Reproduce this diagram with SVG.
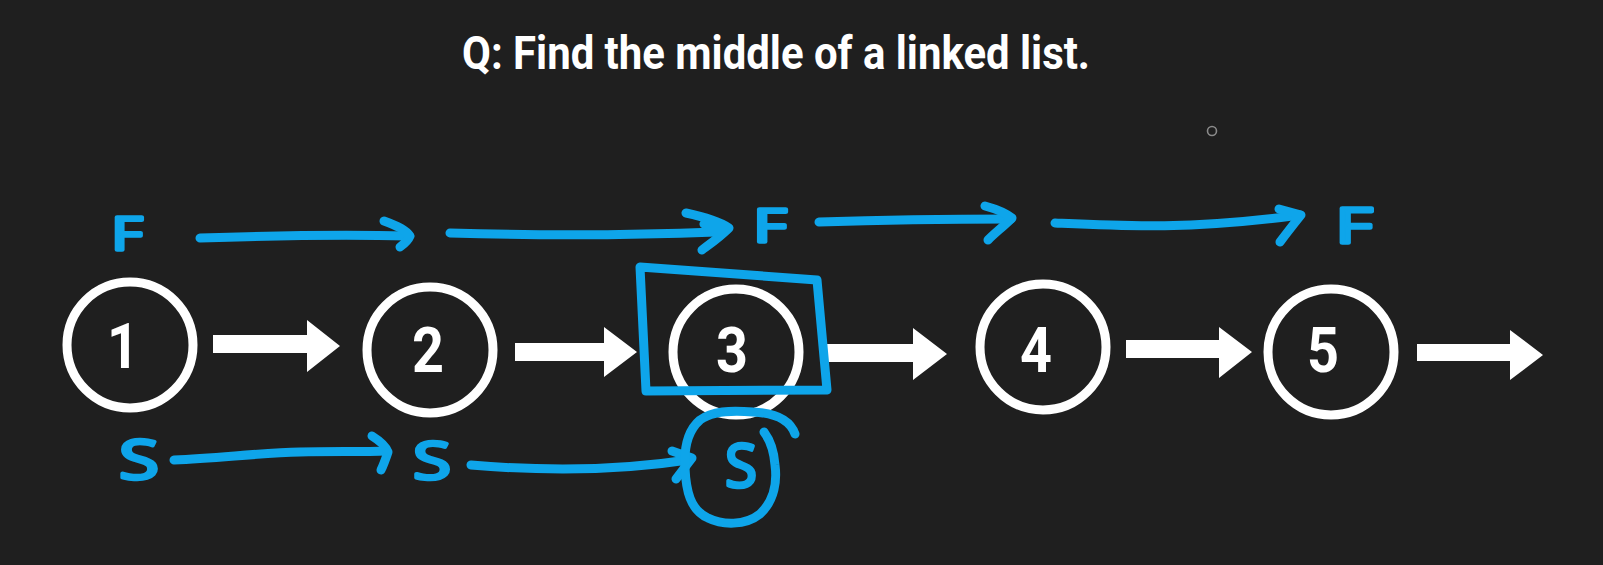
<svg xmlns="http://www.w3.org/2000/svg" width="1603" height="565" viewBox="0 0 1603 565">
<style>
.node circle{fill:none;stroke:#ffffff;stroke-width:9}
.digit{font-family:Roboto,"Liberation Sans",sans-serif;font-weight:700;font-size:63px;fill:#ffffff;text-anchor:middle}
.title{font-family:Roboto,"Liberation Sans",sans-serif;font-weight:700;font-size:47px;fill:#ffffff;text-anchor:middle}
.blk{fill:#ffffff}
.ink{fill:none;stroke:#0ea5ea;stroke-width:9;stroke-linecap:round;stroke-linejoin:round}
.lbl{font-family:"Open Sans","Noto Sans",sans-serif;font-weight:400;fill:#0ea5ea;stroke:#0ea5ea;stroke-width:3.5;stroke-linejoin:round;stroke-linecap:round;text-anchor:middle}
</style>
<rect width="1603" height="565" fill="#1f1f1f"/>
<text class="title" x="776" y="69" textLength="628" lengthAdjust="spacingAndGlyphs">Q: Find the middle of a linked list.</text>
<circle cx="1212" cy="131" r="4.5" fill="none" stroke="#8a8a8a" stroke-width="1.6"/>

<g id="node1" class="node"><circle cx="130" cy="345" r="63"/><text class="digit" x="123" y="368" textLength="32" lengthAdjust="spacingAndGlyphs">1</text></g>
<g id="node2" class="node"><circle cx="430" cy="350" r="63"/><text class="digit" x="428" y="372" textLength="32" lengthAdjust="spacingAndGlyphs">2</text></g>
<g id="node3" class="node"><circle cx="736" cy="352" r="63"/><text class="digit" x="732" y="372" textLength="32" lengthAdjust="spacingAndGlyphs">3</text></g>
<g id="node4" class="node"><circle cx="1043" cy="347" r="63"/><text class="digit" x="1036" y="372" textLength="32" lengthAdjust="spacingAndGlyphs">4</text></g>
<g id="node5" class="node"><circle cx="1331" cy="352" r="63"/><text class="digit" x="1323" y="372" textLength="32" lengthAdjust="spacingAndGlyphs">5</text></g>

<g id="connectors">
<polygon class="blk" points="213,335 307,335 307,320 340,346 307,372 307,353 213,353"/>
<polygon class="blk" points="515,343 604,343 604,327 637,352 604,377 604,361 515,361"/>
<polygon class="blk" points="823,344 913,344 913,328 947,354 913,380 913,362 823,362"/>
<polygon class="blk" points="1126,340 1219,340 1219,327 1252,352 1219,378 1219,358 1126,358"/>
<polygon class="blk" points="1417,344 1510,344 1510,330 1543,355 1510,380 1510,361 1417,361"/>
</g>

<g id="fast-pointer">
<text class="lbl" x="127" y="250" font-size="46" textLength="32" lengthAdjust="spacingAndGlyphs">F</text>
<path class="ink" d="M200,238 C260,236 330,234 408,236"/>
<path class="ink" d="M384,221 C398,226 406,230 410,236 C408,241 404,244 400,247"/>
<path class="ink" d="M450,233 C550,236 640,235 716,232"/>
<path class="ink" d="M686,213 C705,217 720,222 729,228 C720,237 710,244 702,250 M704,224 L718,231"/>
<text class="lbl" x="770" y="242" font-size="46" textLength="34" lengthAdjust="spacingAndGlyphs">F</text>
<path class="ink" d="M819,222 C880,220 950,219 1011,219"/>
<path class="ink" d="M985,206 C996,209 1006,213 1012,218 C1004,226 995,233 988,240"/>
<path class="ink" d="M1055,223 C1120,226 1190,230 1300,215"/>
<path class="ink" d="M1279,209 L1301,215 C1293,225 1286,234 1280,242"/>
<text class="lbl" x="1354" y="243" font-size="50" textLength="38" lengthAdjust="spacingAndGlyphs">F</text>
</g>

<g id="slow-pointer">
<text class="lbl" x="139" y="479" font-size="54" textLength="40" lengthAdjust="spacingAndGlyphs">S</text>
<path class="ink" d="M174,460 C220,458 260,453 300,452 C330,451 360,452 387,451"/>
<path class="ink" d="M372,436 C380,441 386,446 388,452 C386,458 384,464 381,470"/>
<text class="lbl" x="432" y="479" font-size="52" textLength="38" lengthAdjust="spacingAndGlyphs">S</text>
<path class="ink" d="M471,465 C530,470 610,472 688,460"/>
<path class="ink" d="M672,451 L692,458 L676,479"/>
<text class="lbl" x="741" y="487" font-size="60" textLength="32" lengthAdjust="spacingAndGlyphs">S</text>
<path class="ink" d="M795,434 C790,420 775,413 753,412 C730,410 712,411 700,420 C686,432 684,450 685,468 C686,490 690,510 708,518 C722,525 745,526 760,514 C775,500 777,480 775,465 C774,452 770,440 764,432"/>
</g>

<g id="highlight">
<path class="ink" d="M640,267 L817,280 L827,390 L646,391 Z"/>
</g>
</svg>
